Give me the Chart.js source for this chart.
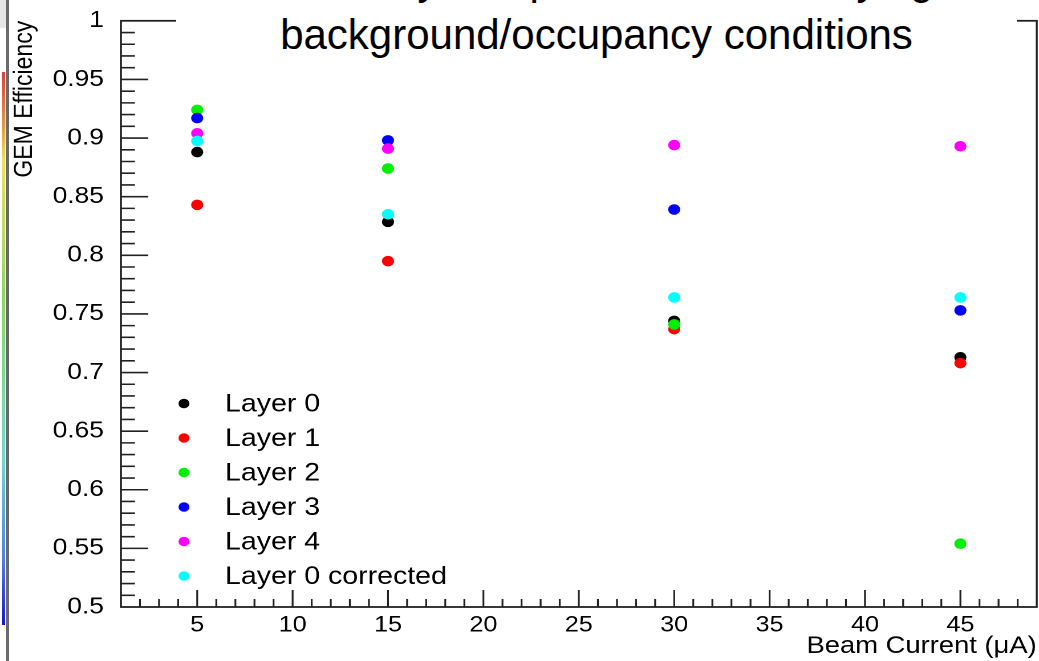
<!DOCTYPE html>
<html>
<head>
<meta charset="utf-8">
<script src="https://cdn.jsdelivr.net/npm/chart.js@4.4.1/dist/chart.umd.min.js"></script>
<style>
  html, body { margin: 0; padding: 0; background: #fff; }
  body { position: relative; width: 1039px; height: 661px; overflow: hidden; font-family: "Liberation Sans", Arial, sans-serif; }
  /* the source picture is stretched sideways, so the chart is too */
  #stretch { position: absolute; left: 0; top: 0; width: 911px; height: 661px; transform: scaleX(1.1405); transform-origin: 0 0; }
  #title { position: absolute; left: 176px; top: -48px; width: 841px; height: 110px; background: #fff;
           text-align: center; font-size: 42px; line-height: 55px; color: #000; white-space: nowrap; }
  #edgeBar { position: absolute; left: 6px; top: 0; width: 3px; height: 661px; background: #6a6a6a; }
  #edgePanel { position: absolute; left: 0; top: 0; width: 6px; height: 28px; background: #e6e6e6; }
  #palette { position: absolute; left: 2px; top: 72px; width: 3px; height: 553px;
             background: linear-gradient(to bottom, #d84040 0%, #e89a40 10%, #efe060 16%, #8fd860 40%, #70d8d0 70%, #5080e0 88%, #1818c8 100%); }
</style>
</head>
<body>
<div id="stretch"><canvas id="effChart"></canvas></div>
<div id="edgePanel"></div>
<div id="palette"></div>
<div id="edgeBar"></div>
<div id="title">Efficiency comparison under varying<br>background/occupancy conditions</div>

<script>
// beam current points (µA)
const beamCurrent = [5, 15, 30, 45];

// efficiency per layer
const layer0     = [0.888, 0.8285, 0.744, 0.713];
const layer1     = [0.843, 0.795, 0.737, 0.708];
const layer2     = [0.924, 0.874, 0.741, 0.554];
const layer3     = [0.917, 0.898, 0.839, 0.753];
const layer4     = [0.904, 0.891, 0.894, 0.893];
const layer0Corr = [0.8975, 0.835, 0.764, 0.764];

const seriesNames  = ['Layer 0', 'Layer 1', 'Layer 2', 'Layer 3', 'Layer 4', 'Layer 0 corrected'];
const seriesColors = ['#000000', '#ff0000', '#00f000', '#0000ff', '#ff00ff', '#00ffff'];
const seriesValues = [layer0, layer1, layer2, layer3, layer4, layer0Corr];

// axis ticks
const xTickLabels = [5, 10, 15, 20, 25, 30, 35, 40, 45];
const yTickLabels = [0.5, 0.55, 0.6, 0.65, 0.7, 0.75, 0.8, 0.85, 0.9, 0.95, 1];
const xRange = [1, 49];
const yRange = [0.5, 1];

const FONT = '"Liberation Sans", Arial, sans-serif';

// ROOT-style frame with inward ticks (major + minor)
const frameTicks = {
  id: 'frameTicks',
  beforeDatasetsDraw(chart) {
    const { ctx, chartArea: a, scales: { x, y } } = chart;
    ctx.save();
    ctx.strokeStyle = '#222';
    ctx.lineWidth = 1.8;
    ctx.strokeRect(a.left, a.top, a.right - a.left, a.bottom - a.top);

    ctx.lineWidth = 1.6;
    ctx.beginPath();
    for (let v = xRange[0] + 1; v < xRange[1]; v++) {
      const px = x.getPixelForValue(v);
      const len = v % 5 === 0 ? 17 : 8;
      ctx.moveTo(px, a.bottom);
      ctx.lineTo(px, a.bottom - len);
    }
    for (let i = 1; i < 50; i++) {
      const v = yRange[0] + i / 100;
      const py = y.getPixelForValue(v);
      const len = i % 5 === 0 ? 24 : 12.3;
      ctx.moveTo(a.left, py);
      ctx.lineTo(a.left + len, py);
    }
    ctx.stroke();
    ctx.restore();
  }
};

// legend drawn inside the frame, bottom-left
const innerLegend = {
  id: 'innerLegend',
  afterDatasetsDraw(chart) {
    const { ctx, chartArea: a } = chart;
    ctx.save();
    ctx.font = '25px ' + FONT;
    ctx.textBaseline = 'middle';
    chart.data.datasets.forEach((ds, i) => {
      const cy = 403.5 + i * 34.5;
      ctx.beginPath();
      ctx.fillStyle = ds.backgroundColor;
      ctx.arc(a.left + 55.3, cy, 4.8, 0, Math.PI * 2);
      ctx.fill();
      ctx.fillStyle = '#000';
      ctx.fillText(ds.label, a.left + 91.3, cy + 1);
    });
    ctx.restore();
  }
};

const datasets = seriesNames.map((name, i) => ({
  label: name,
  data: beamCurrent.map((bc, j) => ({ x: bc, y: seriesValues[i][j] })),
  backgroundColor: seriesColors[i],
  borderColor: seriesColors[i],
  pointRadius: 5.3,
  pointBorderWidth: 0,
  showLine: false,
  order: -i
}));

new Chart(document.getElementById('effChart'), {
  type: 'scatter',
  data: { datasets },
  options: {
    responsive: true,
    maintainAspectRatio: false,
    devicePixelRatio: 2,
    animation: false,
    events: [],
    layout: { autoPadding: false, padding: { left: 0, right: 2, top: 18, bottom: 0 } },
    plugins: { legend: { display: false }, tooltip: { enabled: false } },
    scales: {
      x: {
        type: 'linear',
        min: xRange[0], max: xRange[1],
        afterBuildTicks: s => { s.ticks = xTickLabels.map(v => ({ value: v })); },
        afterFit: s => { s.height = 54; },
        grid: { display: false },
        border: { display: false },
        ticks: { color: '#000', font: { family: FONT, size: 22 }, padding: -3, maxRotation: 0, autoSkip: false,
                 callback: v => String(v) },
        title: { display: true, text: 'Beam Current (μA)', align: 'end', color: '#000',
                 font: { family: FONT, size: 24 }, padding: { top: -1, bottom: 0 } }
      },
      y: {
        type: 'linear',
        min: yRange[0], max: yRange[1],
        afterBuildTicks: s => { s.ticks = yTickLabels.map(v => ({ value: v })); },
        afterFit: s => { s.width = 106; },
        grid: { display: false },
        border: { display: false },
        ticks: { color: '#000', font: { family: FONT, size: 23 }, padding: 7, autoSkip: false,
                 callback: v => String(+v.toFixed(2)) },
        title: { display: true, text: 'GEM Efficiency', align: 'end', color: '#000',
                 font: { family: FONT, size: 23 }, padding: { top: 8, bottom: 0 } }
      }
    }
  },
  plugins: [frameTicks, innerLegend]
});
</script>
</body>
</html>
